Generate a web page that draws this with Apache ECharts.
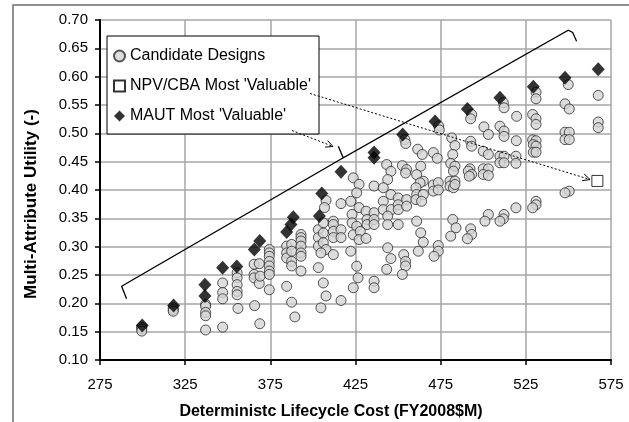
<!DOCTYPE html>
<html><head><meta charset="utf-8">
<script src="https://cdn.jsdelivr.net/npm/echarts@6/dist/echarts.min.js"></script>
<style>html,body{margin:0;padding:0;background:#fff}#c{width:629px;height:422px}</style>
</head><body><div id="c"></div>
<script>
// ---- data (cost FY2008 $M, multi-attribute utility) ----
const candidateDesigns = [
[299.5,0.158],[299.5,0.155],[299.5,0.151],
[318,0.192],[318,0.189],[318,0.186],
[337,0.198],[337,0.195],[337,0.184],[337,0.178],[337,0.153],
[347,0.236],[347,0.219],[347,0.208],[347,0.158],
[355.5,0.254],[355.5,0.245],[355.5,0.233],[355.5,0.221],[355.5,0.215],[356,0.191],
[365.5,0.269],[365.5,0.251],[365.5,0.245],[368.5,0.270],[368.5,0.235],[369,0.248],[365.8,0.196],[368.8,0.164],
[374.4,0.295],[374.4,0.289],[374.4,0.283],[374.4,0.274],[374.4,0.266],[374.4,0.257],[374.4,0.251],[374.4,0.224],
[384.6,0.301],[384.6,0.289],[384.6,0.280],[387.5,0.304],[387.5,0.292],[387.5,0.274],[387.5,0.266],[384.6,0.230],[387.5,0.202],[389.4,0.176],
[393,0.3215],[393,0.316],[393,0.310],[393,0.301],[393,0.289],[393,0.283],[393,0.257],
[407.7,0.3815],[406.8,0.369],[403.2,0.330],[403.2,0.316],[403.2,0.301],[406.1,0.342],[406.1,0.324],[406.1,0.307],[407.7,0.295],[404.7,0.289],[403.2,0.263],[406.1,0.236],[407.7,0.213],[404.7,0.192],
[412,0.345],[412,0.339],[412,0.327],[412,0.316],[416.5,0.330],[416.5,0.316],[412,0.286],[416.5,0.376],[416.5,0.205],
[423.7,0.4215],[427.1,0.410],[425.7,0.395],[422.2,0.380],[427.1,0.369],[423,0.357],[423,0.342],[425.7,0.336],[423.7,0.321],[427.8,0.327],[427.1,0.3125],[422.2,0.292],[425.7,0.2655],[426.5,0.245],[423.7,0.2275],
[431.2,0.3626],[431.8,0.348],[431.8,0.339],[435.9,0.360],[435.9,0.348],[435.9,0.339],[431.2,0.3145],[435.9,0.407],[435.9,0.239],[435.9,0.2275],
[443.3,0.445],[445.8,0.433],[443.9,0.4185],[441.3,0.404],[445.8,0.392],[441.3,0.380],[441.3,0.3655],[446,0.3655],[443.9,0.354],[443.9,0.339],[443.9,0.298],[445.8,0.279],[443.3,0.260],
[452.5,0.443],[455,0.436],[454.4,0.430],[450.1,0.386],[450.1,0.374],[450.1,0.3655],[455,0.383],[455,0.3715],[453.3,0.286],[454.4,0.274],[454.4,0.266],[452.5,0.251],[450.1,0.339],[454,0.489],[454.5,0.482],
[461.5,0.472],[464.2,0.4627],[463.3,0.442],[460.9,0.427],[464.8,0.4155],[462.9,0.4127],[460.5,0.404],[460.9,0.392],[460.5,0.383],[464.8,0.392],[463.8,0.380],[460.9,0.345],[463.3,0.3245],[464.8,0.308],[461.9,0.292],
[473.8,0.513],[474.2,0.506],[470.7,0.466],[473,0.456],[470.7,0.409],[473.6,0.413],[470.7,0.398],[473.6,0.400],[473.6,0.302],[473.6,0.292],[471.1,0.283],
[481.5,0.492],[483.4,0.4785],[482.1,0.4627],[480.9,0.447],[483.4,0.442],[482.5,0.4333],[480.5,0.4156],[483.4,0.4156],[480.5,0.4068],[482.5,0.404],[483.4,0.4097],[482.1,0.348],[484,0.3333],[480.9,0.3185],
[493.2,0.5333],[492.6,0.5257],[492.6,0.486],[493.2,0.4773],[492.2,0.4374],[491.2,0.4333],[493.2,0.4274],[491.8,0.4244],[492.6,0.3315],[493.2,0.3215],[490.7,0.314],
[500.4,0.5115],[503,0.498],[500,0.4685],[503,0.4627],[500,0.4374],[503,0.4374],[500,0.4274],[503,0.4256],[503,0.3568],[501,0.345],
[511.8,0.554],[512.2,0.545],[509.8,0.5126],[512.2,0.504],[512.2,0.4945],[509.8,0.4597],[512.2,0.4597],[509.8,0.448],[512.2,0.448],[512.2,0.3568],[511.8,0.349],[509.8,0.345],
[519.6,0.530],[519.4,0.487],[519.2,0.4597],[519.2,0.447],[519.2,0.3686],
[531,0.5726],[531,0.561],[529,0.5333],[531,0.5257],[531,0.5157],[529,0.4886],[531,0.487],[529.4,0.480],[531,0.4773],[529.4,0.4667],[531,0.4667],[531,0.380],[531,0.374],[529,0.3686],
[549.9,0.586],[548,0.552],[550.5,0.543],[548,0.502],[550.5,0.502],[548,0.489],[550.5,0.489],[550.5,0.398],[548,0.395],
[567.5,0.567],[567.5,0.520],[567.5,0.510]
];
const npvMostValuable = [[567,0.416]];
const mautMostValuable = [
[299.8,0.161],[318.2,0.196],[336.6,0.213],[336.6,0.233],[347,0.263],[355.3,0.265],[365.6,0.295],[368.8,0.310],
[384.6,0.326],[387.1,0.339],[388.5,0.352],[403.8,0.354],[405.2,0.394],[416.5,0.432],[435.9,0.457],[435.9,0.466],
[452.7,0.498],[471.7,0.521],[490.7,0.543],[509.8,0.563],[529.4,0.582],[548,0.598],[567.5,0.613]
];
const seriesNames = ['Candidate Designs', "NPV/CBA Most 'Valuable'", "MAUT Most 'Valuable'"];
const xAxisTitle = 'Deterministc Lifecycle Cost (FY2008$M)';
const yAxisTitle = 'Multi-Attribute Utility (-)';
// annotation anchors (data coordinates)
const bracketPath = [[290.6,0.208],[287.7,0.2303],[417.8,0.4568],[414.9,0.4773],[417.8,0.4568],[549.9,0.682],[552.5,0.678],[554.8,0.6626]];
const npvArrow = [[398.3,0.5703],[562.7,0.4185]];
const mautArrow = [[387.7,0.505],[411.8,0.4768]];

const FONT = 'Liberation Sans, Arial, sans-serif';
const chart = echarts.init(document.getElementById('c'), null, {renderer:'canvas'});
chart.setOption({
  animation:false,
  backgroundColor:'#fff',
  grid:{left:100, top:20, width:511, height:340, containLabel:false},
  xAxis:{type:'value', min:275, max:575, interval:50,
    axisLine:{show:true, onZero:false, lineStyle:{color:'#000', width:2}},
    axisTick:{show:true, inside:false, length:5, lineStyle:{color:'#000', width:1.5}},
    axisLabel:{margin:17, color:'#000', fontFamily:FONT, fontSize:15},
    splitLine:{show:true, lineStyle:{color:'#a6a6a6', width:1.5}}},
  yAxis:{type:'value', min:0.10, max:0.70, interval:0.05,
    axisLine:{show:true, onZero:false, lineStyle:{color:'#000', width:2}},
    axisTick:{show:true, inside:false, length:5, lineStyle:{color:'#000', width:1.5}},
    axisLabel:{margin:12, color:'#000', fontFamily:FONT, fontSize:15, formatter:v=>v.toFixed(2)},
    splitLine:{show:true, lineStyle:{color:'#a6a6a6', width:1.5}}},
  legend:{orient:'vertical', left:107, top:36, backgroundColor:'#fff', borderColor:'#000', borderWidth:1,
    padding:[12,8,10,6], itemGap:14, itemWidth:11, itemHeight:11,
    textStyle:{fontFamily:FONT, fontSize:16, color:'#000'},
    data:seriesNames},
  series:[
    {name:seriesNames[0], type:'scatter', data:candidateDesigns, symbol:'circle', symbolSize:10,
     itemStyle:{color:'#d4d4d4', borderColor:'#2a2a2a', borderWidth:1}, z:2},
    {name:seriesNames[1], type:'scatter', data:npvMostValuable, symbol:'rect', symbolSize:11,
     itemStyle:{color:'#fff', borderColor:'#000', borderWidth:1}, z:4},
    {name:seriesNames[2], type:'scatter', data:mautMostValuable, symbol:'diamond', symbolSize:[13,14],
     itemStyle:{color:'#000'}, z:3}
  ]
});

function px(p){ return chart.convertToPixel({gridIndex:0}, p); }
function arrow(seg){
  const a = px(seg[0]), b = px(seg[1]);
  const ang = Math.atan2(b[1]-a[1], b[0]-a[0]);
  const L = 8, s = 0.45;
  const h1 = [b[0]-L*Math.cos(ang-s), b[1]-L*Math.sin(ang-s)];
  const h2 = [b[0]-L*Math.cos(ang+s), b[1]-L*Math.sin(ang+s)];
  return [
    {type:'polyline', z:100, shape:{points:[a,b]}, style:{stroke:'#000', lineWidth:1, lineDash:[2,2], fill:null}},
    {type:'polyline', z:100, shape:{points:[h1,b,h2]}, style:{stroke:'#000', lineWidth:1, fill:null}}
  ];
}
const graphics = [
  {type:'rect', z:-1, shape:{x:13, y:5, width:800, height:600}, style:{fill:null, stroke:'#6e6e6e', lineWidth:1.5}},
  {type:'polyline', z:100, shape:{points:bracketPath.map(px)}, style:{stroke:'#000', lineWidth:1.3, fill:null}},
  ...arrow(npvArrow), ...arrow(mautArrow),
  {type:'text', z:100, x:331, y:412, style:{text:xAxisTitle, font:'bold 16px '+FONT, fill:'#000', textAlign:'center', textVerticalAlign:'middle'}},
  {type:'text', z:100, x:31, y:204, rotation:Math.PI/2, style:{text:yAxisTitle, font:'bold 17px '+FONT, fill:'#000', textAlign:'center', textVerticalAlign:'middle'}}
];
chart.setOption({graphic:graphics});
</script></body></html>
